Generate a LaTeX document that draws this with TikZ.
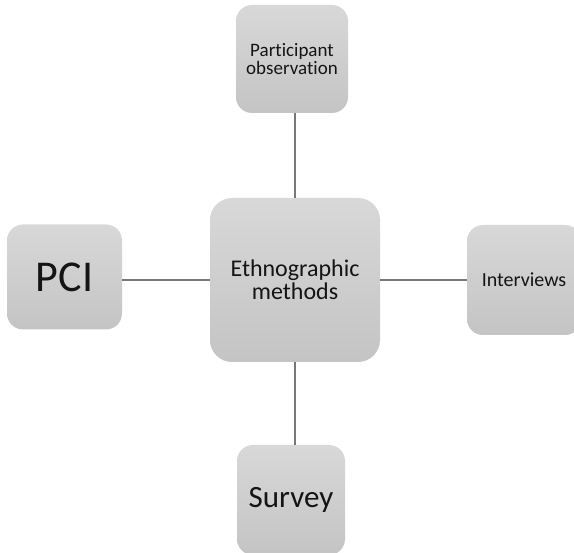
\documentclass[tikz,border=0pt]{standalone}
\usepackage{fontspec}
\setmainfont[Ligatures=NoCommon]{Carlito}
\definecolor{boxtop}{RGB}{216,216,216}
\definecolor{boxbot}{RGB}{196,196,196}
\definecolor{linkc}{RGB}{120,120,120}
\definecolor{txt}{RGB}{20,20,20}
\begin{document}
\begin{tikzpicture}[x=1pt,y=-1pt,
  box/.style={rounded corners=16pt, top color=boxtop, bottom color=boxbot, draw=none,
    text=txt, align=center, inner sep=0pt},
  link/.style={draw=linkc, line width=1.4pt}]
\useasboundingbox (0,0) rectangle (574,553);
\node[box, minimum width=112pt, minimum height=108pt, font=\fontsize{19}{17.5}\selectfont] (po) at (292,59) {Participant\\observation};
\node[box, rounded corners=22pt, minimum width=170pt, minimum height=164pt, font=\fontsize{24}{23}\selectfont] (em) at (295,280) {Ethnographic\\methods};
\node[box, minimum width=115pt, minimum height=105pt, font=\fontsize{44}{44}\selectfont] (pci) at (64.5,277) {PCI};
\node[box, minimum width=114pt, minimum height=110pt, font=\fontsize{20}{20}\selectfont] (iv) at (524,280) {Interviews};
\node[box, minimum width=108pt, minimum height=110pt, font=\fontsize{31}{31}\selectfont] (sv) at (291,500) {Survey};
\draw[link] (em.north) -- (em.north |- po.south);
\draw[link] (em.south) -- (em.south |- sv.north);
\draw[link] (em.west) -- (em.west -| pci.east);
\draw[link] (em.east) -- (em.east -| iv.west);
\end{tikzpicture}
\end{document}
